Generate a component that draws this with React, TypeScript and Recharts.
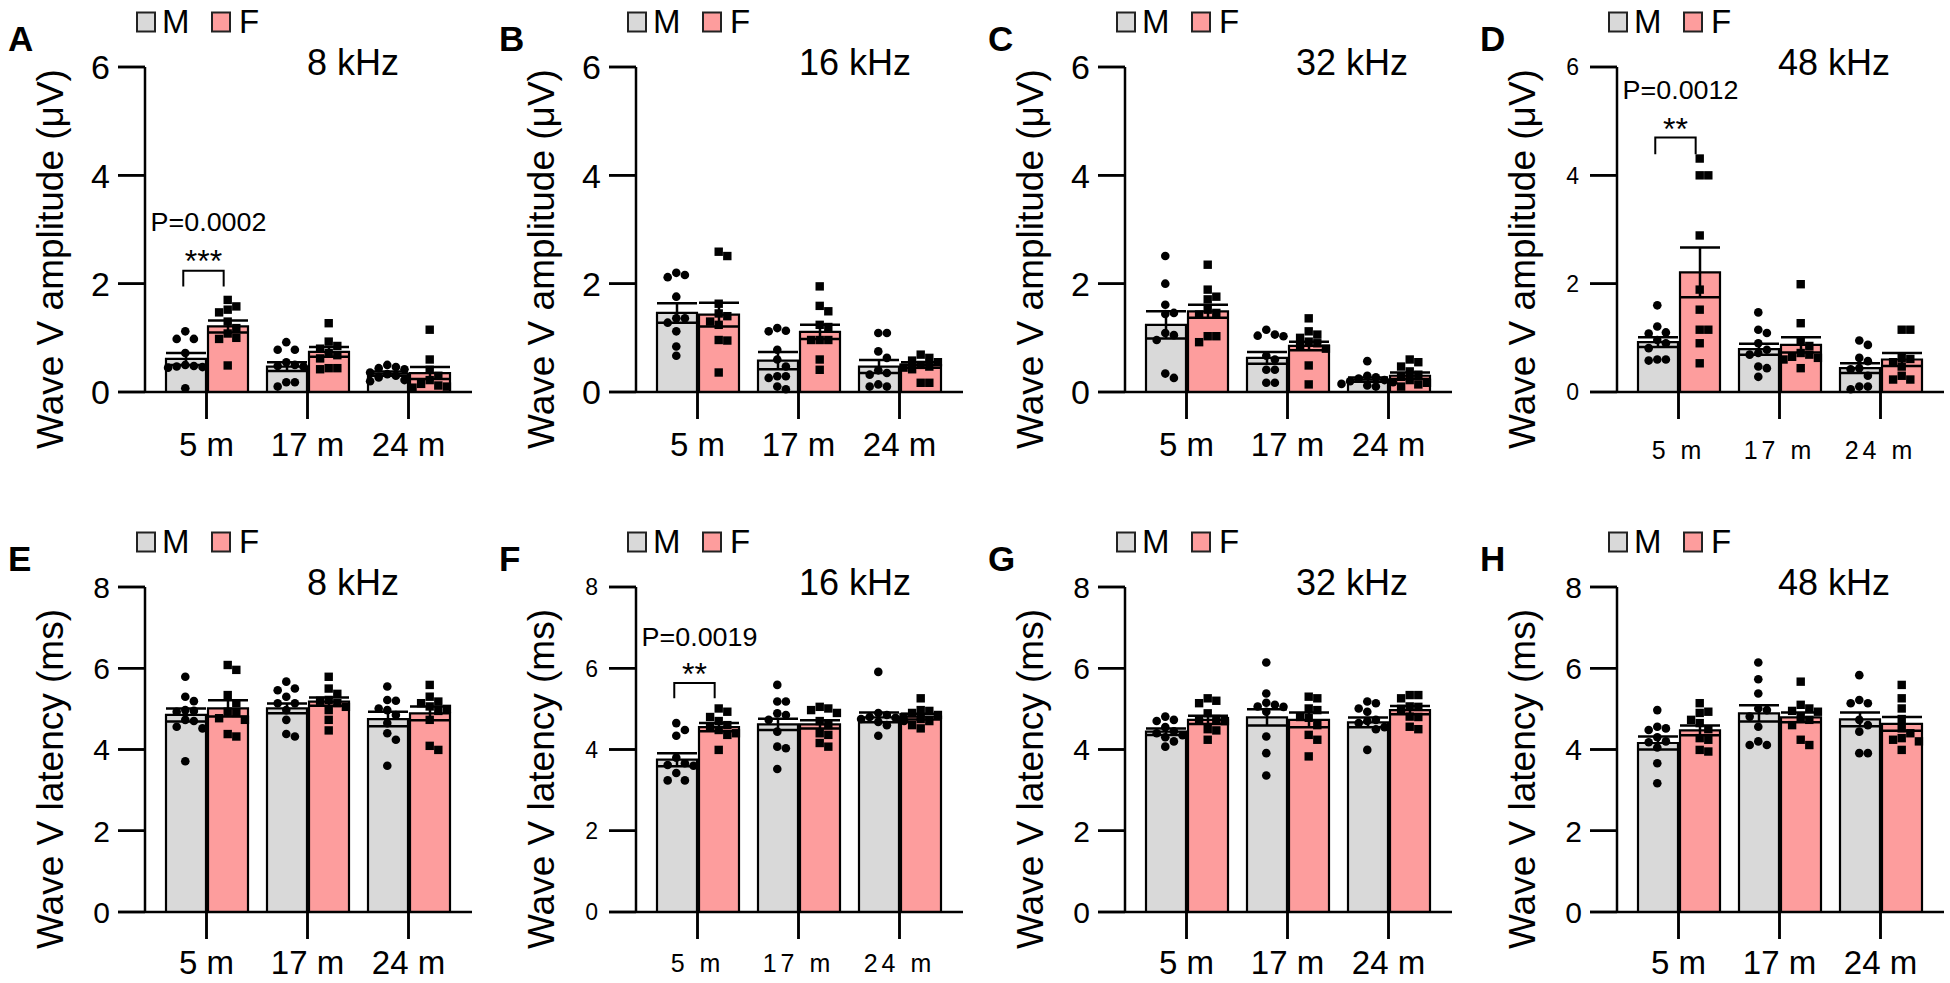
import { Bar, ComposedChart, ErrorBar, Line, Scatter, XAxis, YAxis } from 'recharts'

const FONT = '"Liberation Sans", Arial, Helvetica, sans-serif'
const M_FILL = '#d9d9d9'
const F_FILL = '#fd9d9d'

const ages = ['5 m', '17 m', '24 m']
const ampTicks = [0, 2, 4, 6]
const latTicks = [0, 2, 4, 6, 8]

// A: amplitude, 8 kHz
const aMeanM = [0.61, 0.47, 0.34]
const aSemM = [0.11, 0.08, 0.04]
const aMeanF = [1.21, 0.74, 0.35]
const aSemF = [0.11, 0.09, 0.11]
const aPtsM = [
  [1.12, 0.98, 0.98, 0.72, 0.5, 0.48, 0.47, 0.46, 0.45, 0.07],
  [0.92, 0.78, 0.78, 0.55, 0.5, 0.48, 0.47, 0.18, 0.18, 0.1],
  [0.5, 0.46, 0.44, 0.42, 0.36, 0.33, 0.3, 0.27, 0.22, 0.2],
]
const aPtsF = [
  [1.7, 1.58, 1.52, 1.47, 1.3, 1.18, 1.08, 1.0, 0.98, 0.49],
  [1.27, 0.93, 0.85, 0.8, 0.72, 0.68, 0.62, 0.44, 0.44, 0.42],
  [1.15, 0.6, 0.41, 0.3, 0.22, 0.15, 0.12, 0.1, 0.08],
]
// bracket foot, bracket top, stars, p-value
const aSig = [1.95, 2.24, 2.56, 3.13]

// B: amplitude, 16 kHz
const bMeanM = [1.46, 0.58, 0.47]
const bSemM = [0.18, 0.16, 0.12]
const bMeanF = [1.43, 1.11, 0.5]
const bSemF = [0.22, 0.13, 0.05]
const bPtsM = [
  [2.2, 2.16, 2.12, 1.76, 1.36, 1.36, 1.28, 1.12, 0.84, 0.67],
  [1.18, 1.13, 1.12, 0.78, 0.6, 0.47, 0.29, 0.29, 0.26, 0.1, 0.05],
  [1.09, 1.09, 0.75, 0.63, 0.4, 0.35, 0.32, 0.14, 0.1, 0.1],
]
const bPtsF = [
  [2.59, 2.51, 1.63, 1.45, 1.4, 1.3, 1.24, 0.96, 0.95, 0.36],
  [1.95, 1.59, 1.49, 1.24, 1.2, 0.96, 0.96, 0.96, 0.6, 0.41],
  [0.69, 0.63, 0.58, 0.55, 0.5, 0.47, 0.45, 0.42, 0.17, 0.17],
]

// C: amplitude, 32 kHz
const cMeanM = [1.24, 0.63, 0.23]
const cSemM = [0.25, 0.11, 0.04]
const cMeanF = [1.49, 0.85, 0.3]
const cSemF = [0.12, 0.08, 0.06]
const cPtsM = [
  [2.51, 2.0, 1.61, 1.46, 1.44, 1.09, 1.05, 0.96, 0.34, 0.26],
  [1.15, 1.06, 1.04, 1.03, 0.67, 0.6, 0.41, 0.41, 0.17, 0.17],
  [0.57, 0.3, 0.27, 0.25, 0.22, 0.2, 0.18, 0.15, 0.12, 0.1],
]
const cPtsF = [
  [2.35, 1.89, 1.76, 1.71, 1.52, 1.46, 1.43, 1.03, 1.03, 0.92],
  [1.36, 1.12, 1.06, 1.0, 0.93, 0.9, 0.84, 0.8, 0.49, 0.14],
  [0.6, 0.55, 0.47, 0.38, 0.32, 0.28, 0.22, 0.17, 0.14, 0.1],
]

// D: amplitude, 48 kHz
const dMeanM = [0.92, 0.79, 0.44]
const dSemM = [0.09, 0.1, 0.09]
const dMeanF = [2.21, 0.87, 0.6]
const dSemF = [0.46, 0.14, 0.12]
const dPtsM = [
  [1.6, 1.21, 1.1, 1.08, 0.96, 0.9, 0.81, 0.6, 0.58, 0.6],
  [1.47, 1.15, 1.09, 0.9, 0.78, 0.72, 0.69, 0.47, 0.44, 0.28],
  [0.95, 0.87, 0.63, 0.57, 0.44, 0.42, 0.3, 0.1, 0.1, 0.05],
]
const dPtsF = [
  [4.31, 4.0, 4.0, 2.89, 1.89, 1.52, 1.15, 1.15, 0.9, 0.53],
  [1.99, 1.27, 0.95, 0.85, 0.72, 0.69, 0.65, 0.63, 0.6, 0.44],
  [1.15, 1.15, 0.63, 0.61, 0.55, 0.47, 0.3, 0.23, 0.23],
]
const dSig = [4.39, 4.7, 4.99, 5.58]

// E: latency, 8 kHz
const eMeanM = [4.85, 5.01, 4.75]
const eSemM = [0.16, 0.12, 0.18]
const eMeanF = [5.01, 5.18, 4.89]
const eSemF = [0.2, 0.1, 0.17]
const ePtsM = [
  [5.79, 5.3, 5.19, 4.97, 4.95, 4.93, 4.73, 4.7, 4.56, 4.52, 3.71],
  [5.67, 5.5, 5.46, 5.3, 5.14, 5.14, 4.97, 4.73, 4.38, 4.32],
  [5.55, 5.22, 5.2, 5.01, 4.97, 4.85, 4.65, 4.4, 4.24, 3.6],
]
const ePtsF = [
  [6.08, 5.96, 5.34, 5.14, 4.93, 4.9, 4.77, 4.73, 4.38, 4.32],
  [5.79, 5.5, 5.37, 5.22, 5.2, 5.14, 5.05, 4.97, 4.73, 4.47],
  [5.59, 5.3, 5.18, 5.14, 5.06, 5.0, 4.95, 4.73, 4.09, 3.99],
]

// F: latency, 16 kHz
const fMeanM = [3.75, 4.62, 4.79]
const fSemM = [0.16, 0.14, 0.12]
const fMeanF = [4.55, 4.62, 4.81]
const fSemF = [0.1, 0.1, 0.07]
const fPtsM = [
  [4.65, 4.48, 4.34, 3.8, 3.66, 3.62, 3.6, 3.42, 3.24, 3.24],
  [5.59, 5.18, 5.18, 4.89, 4.85, 4.73, 4.44, 4.07, 4.03, 3.52],
  [5.91, 4.9, 4.85, 4.8, 4.78, 4.75, 4.7, 4.68, 4.6, 4.34],
]
const fPtsF = [
  [5.01, 4.93, 4.8, 4.7, 4.6, 4.55, 4.48, 4.4, 4.36, 3.99],
  [5.05, 5.01, 4.97, 4.9, 4.7, 4.6, 4.4, 4.36, 4.16, 4.07],
  [5.26, 4.97, 4.95, 4.9, 4.85, 4.8, 4.75, 4.7, 4.6, 4.52],
]
const fSig = [5.26, 5.64, 6.04, 6.77]

// G: latency, 32 kHz
const gMeanM = [4.44, 4.79, 4.67]
const gSemM = [0.08, 0.2, 0.12]
const gMeanF = [4.73, 4.73, 4.97]
const gSemF = [0.1, 0.18, 0.1]
const gPtsM = [
  [4.81, 4.73, 4.7, 4.55, 4.45, 4.4, 4.35, 4.3, 4.2, 4.07],
  [6.14, 5.38, 5.15, 5.1, 5.06, 5.05, 4.93, 4.32, 3.91, 3.36],
  [5.18, 5.14, 5.01, 4.93, 4.73, 4.7, 4.65, 4.55, 4.5, 3.99],
]
const gPtsF = [
  [5.26, 5.2, 5.14, 4.89, 4.75, 4.73, 4.7, 4.5, 4.47, 4.24],
  [5.3, 5.26, 5.01, 4.97, 4.8, 4.78, 4.6, 4.36, 4.24, 3.83],
  [5.34, 5.34, 5.26, 5.06, 5.05, 5.0, 4.81, 4.8, 4.56, 4.5],
]

// H: latency, 48 kHz
const hMeanM = [4.16, 4.89, 4.74]
const hSemM = [0.16, 0.2, 0.17]
const hMeanF = [4.47, 4.79, 4.63]
const hSemF = [0.12, 0.12, 0.17]
const hPtsM = [
  [4.97, 4.56, 4.52, 4.48, 4.3, 4.2, 4.18, 4.05, 3.66, 3.17],
  [6.14, 5.73, 5.38, 5.01, 4.97, 4.81, 4.56, 4.2, 4.11, 4.11],
  [5.83, 5.22, 5.14, 5.14, 4.73, 4.6, 4.44, 3.91, 3.91],
]
const hPtsF = [
  [5.14, 4.93, 4.9, 4.73, 4.65, 4.5, 4.28, 4.24, 3.99, 3.95],
  [5.67, 5.1, 5.01, 4.95, 4.93, 4.8, 4.73, 4.6, 4.24, 4.11],
  [5.59, 5.26, 5.01, 4.75, 4.52, 4.4, 4.28, 4.24, 4.2, 3.99],
]

// layout
const AXIS_X = [145, 636, 1125, 1617]
const ROW_TOP = [0, 520]
const ROW_H = [482, 463]
const TITLE_DX = [208, 219, 227, 217]
const CHART_W = 482
const PLOT_TOP = 67
const PLOT_H = 325
const X_AXIS_H = 68
const TICK = 27
const PX_PER_GROUP = 101
const DOT = 8.6
const BRACKET_X = [-0.23, 0.17]

type Pt = { x: number; y: number }

// Prism-style scatter: spread points sideways when they would overlap
function swarm(values: number[], center: number, pxPerY: number): Pt[] {
  const placed: { dx: number; py: number }[] = []
  const out: Pt[] = []
  const order = values.map((_, i) => i).sort((a, b) => values[b] - values[a])
  for (const i of order) {
    const py = values[i] * pxPerY
    let dx = 0
    for (let k = 0; k < 7; k++) {
      const cand = k === 0 ? 0 : (k % 2 ? 1 : -1) * Math.ceil(k / 2) * DOT
      if (placed.every((p) => Math.hypot(p.dx - cand, p.py - py) >= DOT)) {
        dx = cand
        break
      }
    }
    placed.push({ dx, py })
    out.push({ x: center + dx / PX_PER_GROUP, y: values[i] })
  }
  return out
}

type PanelProps = {
  col: number
  row: number
  letter: string
  title: string
  yLabel: string
  yMax: number
  yTicks: number[]
  meanM: number[]
  semM: number[]
  meanF: number[]
  semF: number[]
  ptsM: number[][]
  ptsF: number[][]
  sig?: number[]
  pText?: string
  stars?: string
  small?: boolean
  yFont: number
  xMargin: number
}

const dotShape = (s: any) => <circle cx={s.cx} cy={s.cy} r={4.3} fill="#000" />
const squareShape = (s: any) => (
  <rect x={s.cx - 4.2} y={s.cy - 4.2} width={8.4} height={8.4} fill="#000" />
)

function Panel(p: PanelProps) {
  const left = AXIS_X[p.col] - 145
  const top = ROW_TOP[p.row]
  const height = ROW_H[p.row]
  const pxPerY = PLOT_H / p.yMax
  const yMargin = p.small ? 11 : 8
  const rows = ages.map((age, i) => ({
    age,
    m: p.meanM[i],
    f: p.meanF[i],
    mErr: p.semM[i],
    fErr: p.semF[i],
  }))
  const dotsM = p.ptsM.flatMap((vals, i) => swarm(vals, i - 0.21, pxPerY))
  const dotsF = p.ptsF.flatMap((vals, i) => swarm(vals, i + 0.21, pxPerY))
  const sig = p.sig
  const bracket = sig
    ? [
        { x: BRACKET_X[0], y: sig[0] },
        { x: BRACKET_X[0], y: sig[1] },
        { x: BRACKET_X[1], y: sig[1] },
        { x: BRACKET_X[1], y: sig[0] },
      ]
    : []

  // tick mark + label, placed from the axis' own tick coordinate
  const xTick = (t: any) => (
    <g>
      <line
        x1={t.x}
        x2={t.x}
        y1={t.y - p.xMargin - TICK}
        y2={t.y - p.xMargin}
        stroke="#000"
        strokeWidth={2.5}
      />
      <text
        x={t.x}
        y={t.y}
        dy="0.71em"
        textAnchor="middle"
        fontSize={p.small ? 25 : 33}
        letterSpacing={p.small ? 4 : 0}
        fill="#000"
      >
        {t.payload.value}
      </text>
    </g>
  )
  const yTick = (t: any) => (
    <g>
      <line
        x1={t.x + yMargin}
        x2={t.x + yMargin + TICK}
        y1={t.y}
        y2={t.y}
        stroke="#000"
        strokeWidth={2.5}
      />
      <text x={t.x} y={t.y} dy="0.36em" textAnchor="end" fontSize={p.yFont} fill="#000">
        {t.payload.value}
      </text>
    </g>
  )

  const axisStroke = { stroke: '#000', strokeWidth: 2.5 }

  return (
    <div style={{ position: 'absolute', left, top, width: CHART_W, height }}>
      <ComposedChart
        width={CHART_W}
        height={height}
        data={rows}
        margin={{ top: PLOT_TOP, right: 10, bottom: height - PLOT_TOP - PLOT_H - X_AXIS_H, left: 0 }}
        barGap={2}
      >
        <XAxis
          xAxisId="cat"
          dataKey="age"
          type="category"
          padding={{ left: 11, right: 13 }}
          height={X_AXIS_H}
          tickSize={TICK}
          tickMargin={p.xMargin}
          interval={0}
          axisLine={axisStroke}
          tickLine={axisStroke}
          tick={xTick}
        />
        <XAxis
          xAxisId="num"
          dataKey="x"
          type="number"
          domain={[-0.5, 2.5]}
          padding={{ left: 11, right: 13 }}
          height={0}
          hide
        />
        <YAxis
          yAxisId="val"
          dataKey="y"
          type="number"
          domain={[0, p.yMax]}
          ticks={p.yTicks}
          interval={0}
          width={145}
          tickSize={TICK}
          tickMargin={yMargin}
          axisLine={axisStroke}
          tickLine={axisStroke}
          tick={yTick}
        />
        <Bar
          xAxisId="cat"
          yAxisId="val"
          dataKey="m"
          fill={M_FILL}
          stroke="#000"
          strokeWidth={2.2}
          barSize={40}
          isAnimationActive={false}
        >
          <ErrorBar dataKey="mErr" width={20} stroke="#000" strokeWidth={2.5} direction="y" />
        </Bar>
        <Bar
          xAxisId="cat"
          yAxisId="val"
          dataKey="f"
          fill={F_FILL}
          stroke="#000"
          strokeWidth={2.2}
          barSize={40}
          isAnimationActive={false}
        >
          <ErrorBar dataKey="fErr" width={20} stroke="#000" strokeWidth={2.5} direction="y" />
        </Bar>
        <Scatter xAxisId="num" yAxisId="val" data={dotsM} shape={dotShape} isAnimationActive={false} />
        <Scatter xAxisId="num" yAxisId="val" data={dotsF} shape={squareShape} isAnimationActive={false} />
        {sig && (
          <Line
            xAxisId="num"
            yAxisId="val"
            data={bracket}
            dataKey="y"
            type="linear"
            stroke="#000"
            strokeWidth={2}
            dot={false}
            activeDot={false}
            isAnimationActive={false}
          />
        )}
        {sig && (
          <Scatter
            xAxisId="num"
            yAxisId="val"
            data={[{ x: -0.03, y: sig[2] }]}
            isAnimationActive={false}
            shape={(s: any) => (
              <text x={s.cx} y={s.cy} dy="0.575em" textAnchor="middle" fontSize={32} fill="#000">
                {p.stars}
              </text>
            )}
          />
        )}
        {sig && (
          <Scatter
            xAxisId="num"
            yAxisId="val"
            data={[{ x: 0.02, y: sig[3] }]}
            isAnimationActive={false}
            shape={(s: any) => (
              <text
                x={s.cx}
                y={s.cy}
                dy="0.36em"
                textAnchor="middle"
                fontSize={25}
                textLength={116}
                lengthAdjust="spacingAndGlyphs"
                fill="#000"
              >
                {p.pText}
              </text>
            )}
          />
        )}
      </ComposedChart>
      <svg
        width={CHART_W}
        height={height}
        style={{ position: 'absolute', left: 0, top: 0, pointerEvents: 'none' }}
      >
        <text x={8} y={51} fontSize={35} fontWeight="bold" fill="#000">
          {p.letter}
        </text>
        <rect x={137} y={12.5} width={18} height={19} fill={M_FILL} stroke="#222" strokeWidth={2} />
        <text x={162} y={33} fontSize={33} fill="#000">
          M
        </text>
        <rect x={212} y={12.5} width={18} height={19} fill={F_FILL} stroke="#222" strokeWidth={2} />
        <text x={239} y={33} fontSize={33} fill="#000">
          F
        </text>
        <text x={145 + TITLE_DX[p.col]} y={75} fontSize={36} textAnchor="middle" fill="#000">
          {p.title}
        </text>
        <text
          x={50}
          y={259}
          fontSize={37}
          textAnchor="middle"
          dominantBaseline="central"
          transform="rotate(-90, 50, 259)"
          fill="#000"
        >
          {p.yLabel}
        </text>
      </svg>
    </div>
  )
}

const AMP_LABEL = 'Wave V amplitude (μV)'
const LAT_LABEL = 'Wave V latency (ms)'

const panels: PanelProps[] = [
  {
    col: 0, row: 0, letter: 'A', title: '8 kHz', yLabel: AMP_LABEL, yMax: 6, yTicks: ampTicks,
    meanM: aMeanM, semM: aSemM, meanF: aMeanF, semF: aSemF, ptsM: aPtsM, ptsF: aPtsF,
    sig: aSig, pText: 'P=0.0002', stars: '***', yFont: 34, xMargin: 14,
  },
  {
    col: 1, row: 0, letter: 'B', title: '16 kHz', yLabel: AMP_LABEL, yMax: 6, yTicks: ampTicks,
    meanM: bMeanM, semM: bSemM, meanF: bMeanF, semF: bSemF, ptsM: bPtsM, ptsF: bPtsF,
    yFont: 34, xMargin: 14,
  },
  {
    col: 2, row: 0, letter: 'C', title: '32 kHz', yLabel: AMP_LABEL, yMax: 6, yTicks: ampTicks,
    meanM: cMeanM, semM: cSemM, meanF: cMeanF, semF: cSemF, ptsM: cPtsM, ptsF: cPtsF,
    yFont: 34, xMargin: 14,
  },
  {
    col: 3, row: 0, letter: 'D', title: '48 kHz', yLabel: AMP_LABEL, yMax: 6, yTicks: ampTicks,
    meanM: dMeanM, semM: dSemM, meanF: dMeanF, semF: dSemF, ptsM: dPtsM, ptsF: dPtsF,
    sig: dSig, pText: 'P=0.0012', stars: '**', small: true, yFont: 23, xMargin: 22,
  },
  {
    col: 0, row: 1, letter: 'E', title: '8 kHz', yLabel: LAT_LABEL, yMax: 8, yTicks: latTicks,
    meanM: eMeanM, semM: eSemM, meanF: eMeanF, semF: eSemF, ptsM: ePtsM, ptsF: ePtsF,
    yFont: 30, xMargin: 12,
  },
  {
    col: 1, row: 1, letter: 'F', title: '16 kHz', yLabel: LAT_LABEL, yMax: 8, yTicks: latTicks,
    meanM: fMeanM, semM: fSemM, meanF: fMeanF, semF: fSemF, ptsM: fPtsM, ptsF: fPtsF,
    sig: fSig, pText: 'P=0.0019', stars: '**', small: true, yFont: 23, xMargin: 15,
  },
  {
    col: 2, row: 1, letter: 'G', title: '32 kHz', yLabel: LAT_LABEL, yMax: 8, yTicks: latTicks,
    meanM: gMeanM, semM: gSemM, meanF: gMeanF, semF: gSemF, ptsM: gPtsM, ptsF: gPtsF,
    yFont: 30, xMargin: 12,
  },
  {
    col: 3, row: 1, letter: 'H', title: '48 kHz', yLabel: LAT_LABEL, yMax: 8, yTicks: latTicks,
    meanM: hMeanM, semM: hSemM, meanF: hMeanF, semF: hSemF, ptsM: hPtsM, ptsF: hPtsF,
    yFont: 30, xMargin: 12,
  },
]

export default function App() {
  return (
    <div
      style={{
        position: 'absolute',
        left: 0,
        top: 0,
        width: 1950,
        height: 983,
        overflow: 'hidden',
        background: '#fff',
        fontFamily: FONT,
      }}
    >
      {panels.map((p) => (
        <Panel key={p.letter} {...p} />
      ))}
    </div>
  )
}
